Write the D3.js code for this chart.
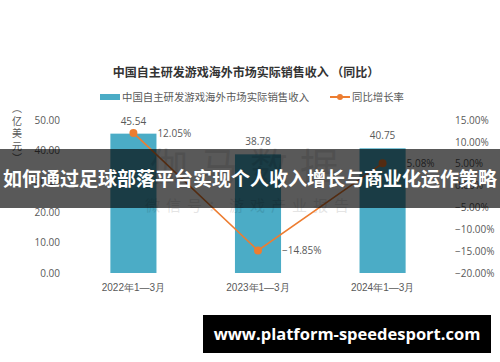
<!DOCTYPE html>
<html lang="zh">
<head>
  <meta charset="UTF-8">
  <title>中国自主研发游戏海外市场实际销售收入</title>
  <script src="https://d3js.org/d3.v7.min.js"></script>
  <style>
    body { margin: 0; background: #fff; }
    svg { display: block; font-family: "Noto Sans CJK SC", "Noto Sans", sans-serif; }
  </style>
</head>
<body>
  <div id="vis"></div>
  <script>
    const periods = ["2022年1—3月", "2023年1—3月", "2024年1—3月"];
    const revenue = [45.54, 38.78, 40.75];
    const growth = [12.05, -14.85, 5.08];
    const leftTicks = [0, 10, 20, 30, 40, 50];
    const rightTicks = [-20, -15, -10, -5, 0, 5, 10, 15];

    const W = 500, H = 362;
    const svg = d3.select("#vis").append("svg").attr("width", W).attr("height", H);
    const textColor = "#595959";

    const x = d3.scaleBand().domain(periods).range([73, 443]).paddingInner(0.63).paddingOuter(0.3);
    const yL = d3.scaleLinear().domain([0, 50]).range([273, 120]);
    const yR = d3.scaleLinear().domain([-20, 15]).range([273, 120]);

    // title
    svg.append("text")
      .attr("x", 246).attr("y", 77)
      .attr("text-anchor", "middle")
      .style("font-size", "12px").style("font-weight", "bold").attr("fill", "#333")
      .text("中国自主研发游戏海外市场实际销售收入 （同比）");

    // legend
    svg.append("rect").attr("x", 100).attr("y", 94).attr("width", 20).attr("height", 6).attr("fill", "#4bacc6");
    svg.append("text").attr("x", 122).attr("y", 101).style("font-size", "10.4px").attr("fill", textColor)
      .text("中国自主研发游戏海外市场实际销售收入");
    svg.append("line").attr("x1", 330).attr("x2", 350).attr("y1", 97).attr("y2", 97)
      .attr("stroke", "#ed7d31").attr("stroke-width", 2);
    svg.append("circle").attr("cx", 340).attr("cy", 97).attr("r", 3).attr("fill", "#ed7d31");
    svg.append("text").attr("x", 352).attr("y", 101).style("font-size", "10.4px").attr("fill", textColor)
      .text("同比增长率");

    // y axis title (vertical)
    const yTitle = ["︵", "亿", "美", "元", "︶"];
    svg.selectAll(".ytitle").data(yTitle).join("text")
      .attr("x", 17).attr("y", (d, i) => 112 + i * 12.5)
      .attr("text-anchor", "middle")
      .style("font-size", "10px").attr("fill", textColor)
      .text(d => d);

    // axes (labels only)
    const axL = svg.append("g").attr("transform", "translate(60,0)")
      .call(d3.axisLeft(yL).tickValues(leftTicks).tickFormat(d3.format(".2f")).tickSize(0).tickPadding(0));
    const axR = svg.append("g").attr("transform", "translate(455,0)")
      .call(d3.axisRight(yR).tickValues(rightTicks).tickFormat(d => d3.format(".2f")(d) + "%").tickSize(0).tickPadding(0));
    [axL, axR].forEach(ax => {
      ax.select(".domain").remove();
      ax.selectAll("text").attr("fill", textColor).style("font-size", "10px")
        .style("font-family", "'Open Sans', 'Noto Sans', sans-serif");
    });

    const axB = svg.append("g").attr("transform", "translate(0,284)")
      .call(d3.axisBottom(x).tickSize(0).tickPadding(0));
    axB.select(".domain").remove();
    axB.selectAll("text").attr("fill", textColor).style("font-size", "10px");

    // bars
    svg.selectAll(".bar").data(periods).join("rect")
      .attr("x", d => x(d)).attr("width", x.bandwidth())
      .attr("y", (d, i) => yL(revenue[i])).attr("height", (d, i) => yL(0) - yL(revenue[i]))
      .attr("fill", "#4bacc6");

    svg.selectAll(".barlabel").data(periods).join("text")
      .attr("x", d => x(d) + x.bandwidth() / 2).attr("y", (d, i) => yL(revenue[i]) - 9)
      .attr("text-anchor", "middle")
      .style("font-size", "10px").style("font-family", "'Open Sans', sans-serif").attr("fill", textColor)
      .text((d, i) => d3.format(".2f")(revenue[i]));

    // watermark
    svg.append("text").attr("x", 250).attr("y", 180).attr("text-anchor", "middle")
      .style("font-size", "38px").style("letter-spacing", "12px").attr("fill", "#000").attr("opacity", 0.1)
      .text("伽马数据");
    svg.append("text").attr("x", 250).attr("y", 211).attr("text-anchor", "middle")
      .style("font-size", "15px").style("letter-spacing", "6px").attr("fill", "#000").attr("opacity", 0.1)
      .text("微信号：游戏产业报告");

    // growth line
    const cx = d => x(d) + x.bandwidth() / 2;
    const line = d3.line().x((d, i) => cx(periods[i])).y(d => yR(d));
    svg.append("path").datum(growth)
      .attr("fill", "none").attr("stroke", "#ed7d31").attr("stroke-width", 1.6)
      .attr("d", line);
    svg.selectAll(".dot").data(growth).join("circle")
      .attr("cx", (d, i) => cx(periods[i])).attr("cy", d => yR(d)).attr("r", 4)
      .attr("fill", "#ed7d31");
    svg.selectAll(".growthlabel").data(growth).join("text")
      .attr("x", (d, i) => cx(periods[i]) + 24).attr("y", d => yR(d) + 4)
      .style("font-size", "10px").style("font-family", "'Open Sans', sans-serif").attr("fill", textColor)
      .text(d => d3.format(".2f")(d) + "%");

    // overlay banner
    svg.append("rect").attr("x", 0).attr("y", 149).attr("width", W).attr("height", 59)
      .attr("fill", "#000").attr("opacity", 0.65);
    svg.append("text").attr("x", 250).attr("y", 186).attr("text-anchor", "middle")
      .style("font-size", "19px").style("font-weight", "bold").attr("fill", "#fff")
      .text("如何通过足球部落平台实现个人收入增长与商业化运作策略");

    // url box
    svg.append("rect").attr("x", 203).attr("y", 315).attr("width", 288).attr("height", 38).attr("fill", "#000");
    svg.append("text").attr("x", 347).attr("y", 340).attr("text-anchor", "middle")
      .style("font-size", "16.5px").style("font-weight", "bold").style("font-family", "'Open Sans', sans-serif")
      .attr("fill", "#fff")
      .text("www.platform-speedesport.com");
  </script>
</body>
</html>
